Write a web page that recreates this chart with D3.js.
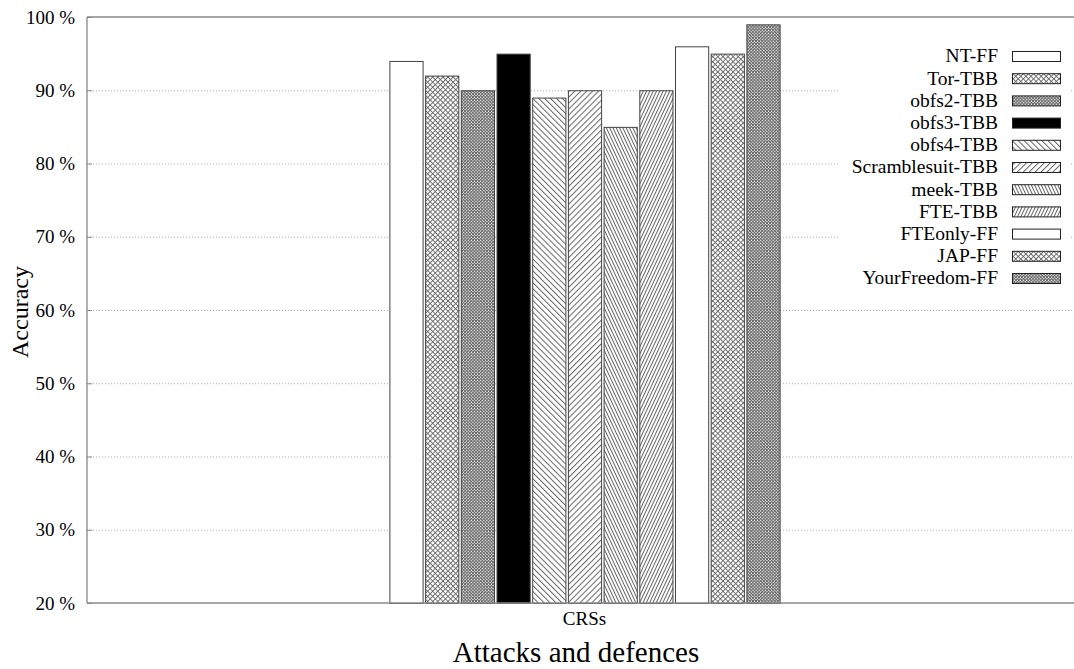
<!DOCTYPE html>
<html>
<head>
<meta charset="utf-8">
<script src="https://cdn.jsdelivr.net/npm/d3@7"></script>
<style>
  html, body { margin: 0; padding: 0; background: #fff; }
  svg { display: block; font-family: "Liberation Serif", "Times New Roman", serif; }
</style>
</head>
<body>
<svg id="chart" width="1074" height="669"></svg>
<script>
// Accuracy of each attack / defence on the CRSs test
const categories = ["CRSs"];
const seriesNames = ["NT-FF", "Tor-TBB", "obfs2-TBB", "obfs3-TBB", "obfs4-TBB",
  "Scramblesuit-TBB", "meek-TBB", "FTE-TBB", "FTEonly-FF", "JAP-FF", "YourFreedom-FF"];
const accuracy = [94, 92, 90, 95, 89, 90, 85, 90, 96, 95, 99];
const fillKinds = ["empty", "cross", "dense", "solid", "back", "fwd",
  "steepBack", "steepFwd", "empty", "cross", "dense"];
const yTicks = [20, 30, 40, 50, 60, 70, 80, 90, 100];

const svg = d3.select("#chart");
const W = 1074, H = 669;
const margin = { left: 87, top: 17, right: -8, bottom: 66 };
const x0 = margin.left, x1 = W - margin.right;
const yTop = margin.top, yBot = H - margin.bottom;
const serif = "Liberation Serif, Times New Roman, serif";

// Fill patterns
const defs = svg.append("defs");
const hatch = "#666";
function linePattern(id, spacing, angle) {
  const p = defs.append("pattern").attr("id", id)
    .attr("patternUnits", "userSpaceOnUse")
    .attr("width", spacing).attr("height", 10)
    .attr("patternTransform", `rotate(${angle})`);
  p.append("rect").attr("width", spacing).attr("height", 10).attr("fill", "#fff");
  p.append("line").attr("x1", 0.5).attr("y1", 0).attr("x2", 0.5).attr("y2", 10)
    .attr("stroke", hatch).attr("stroke-width", 1);
}
function crossPattern(id, spacing, width) {
  const p = defs.append("pattern").attr("id", id)
    .attr("patternUnits", "userSpaceOnUse")
    .attr("width", spacing).attr("height", spacing)
    .attr("patternTransform", "rotate(45)");
  p.append("rect").attr("width", spacing).attr("height", spacing).attr("fill", "#fff");
  p.append("line").attr("x1", 0.5).attr("y1", 0).attr("x2", 0.5).attr("y2", spacing)
    .attr("stroke", hatch).attr("stroke-width", width);
  p.append("line").attr("x1", 0).attr("y1", 0.5).attr("x2", spacing).attr("y2", 0.5)
    .attr("stroke", hatch).attr("stroke-width", width);
}
crossPattern("cross", 3.6, 0.9);
crossPattern("dense", 2.2, 1);
linePattern("back", 4.2, -45);
linePattern("fwd", 4.2, 45);
linePattern("steepBack", 3, -25);
linePattern("steepFwd", 3, 25);
const fillOf = k => k === "empty" ? "#fff" : k === "solid" ? "#000" : `url(#${k})`;

// Scales
const y = d3.scaleLinear().domain([20, 100]).range([yBot, yTop]);
const xOuter = d3.scaleBand().domain(categories).range([x0, x1]).paddingOuter(0.775).paddingInner(0);
const xInner = d3.scaleBand().domain(seriesNames).range([0, xOuter.bandwidth()]).paddingInner(0.07);

// Grid
svg.append("g").selectAll("line").data(yTicks.slice(1, -1)).join("line")
  .attr("x1", x0).attr("x2", x1)
  .attr("y1", d => y(d) + 0.5).attr("y2", d => y(d) + 0.5)
  .attr("stroke", "#aaa").attr("stroke-width", 1).attr("stroke-dasharray", "1,2");

// Bars
const data = seriesNames.map((s, i) => ({ s, v: accuracy[i], k: fillKinds[i] }));
svg.append("g").selectAll("rect").data(data).join("rect")
  .attr("x", d => xOuter("CRSs") + xInner(d.s) + 0.5)
  .attr("y", d => y(d.v) + 0.5)
  .attr("width", xInner.bandwidth())
  .attr("height", d => y(20) - y(d.v))
  .attr("fill", d => fillOf(d.k))
  .attr("stroke", "#444").attr("stroke-width", 1);

// Frame: left, top and bottom borders
const frame = svg.append("g").attr("stroke", "#888").attr("stroke-width", 1.3).attr("fill", "none");
frame.append("line").attr("x1", x0).attr("x2", x0).attr("y1", yTop).attr("y2", yBot);
frame.append("line").attr("x1", x0).attr("x2", W).attr("y1", yTop).attr("y2", yTop);
frame.append("line").attr("x1", x0).attr("x2", W).attr("y1", yBot).attr("y2", yBot);

// Y axis
const yAxis = d3.axisLeft(y).tickValues(yTicks).tickFormat(d => d + " %").tickSizeInner(-5).tickSizeOuter(0).tickPadding(12);
const gy = svg.append("g").attr("transform", `translate(${x0},0)`).call(yAxis);
gy.select(".domain").remove();
gy.selectAll(".tick line").attr("stroke", "#888");
gy.selectAll("text").attr("font-size", 19).attr("fill", "#000")
  .attr("font-family", serif).attr("x", -12);

// X axis
const xAxis = d3.axisBottom(xOuter).tickSize(0).tickPadding(9);
const gx = svg.append("g").attr("transform", `translate(0,${yBot})`).call(xAxis);
gx.select(".domain").remove();
gx.selectAll("text").attr("font-size", 19).attr("fill", "#000")
  .attr("font-family", serif);

// Axis titles
svg.append("text").attr("x", 576).attr("y", 662).attr("text-anchor", "middle")
  .attr("font-size", 29).attr("fill", "#000").text("Attacks and defences");
svg.append("text").attr("transform", "translate(28,312) rotate(-90)")
  .attr("text-anchor", "middle").attr("font-size", 24).attr("fill", "#000").text("Accuracy");

// Legend
const legend = svg.append("g");
legend.append("rect").attr("x", 838).attr("y", 36).attr("width", 232).attr("height", 258).attr("fill", "#fff");
const rowH = 22.2;
const rows = legend.selectAll("g.row").data(data).join("g").attr("class", "row")
  .attr("transform", (d, i) => `translate(0,${56 + i * rowH})`);
rows.append("text").attr("x", 998).attr("y", 0).attr("dy", "0.33em")
  .attr("text-anchor", "end").attr("font-size", 19.5).attr("fill", "#000").text(d => d.s);
rows.append("rect").attr("x", 1012.5).attr("y", -4.5).attr("width", 48).attr("height", 10)
  .attr("fill", d => fillOf(d.k)).attr("stroke", "#222").attr("stroke-width", 1);
</script>
</body>
</html>
